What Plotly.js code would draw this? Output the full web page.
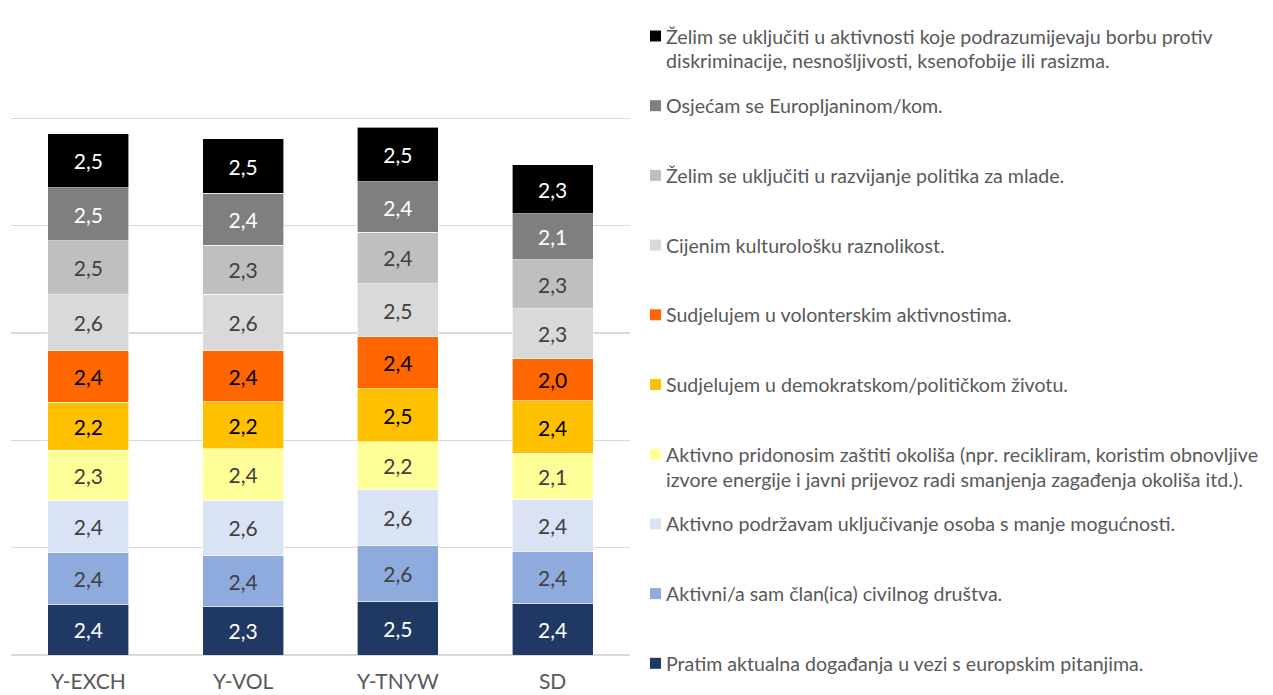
<!DOCTYPE html>
<html>
<head>
<meta charset="utf-8">
<script src="https://cdn.plot.ly/plotly-3.0.1.min.js"></script>
<style>html,body{margin:0;padding:0;background:#fff;}#chart{width:1273px;height:695px;}</style>
</head>
<body>
<div id="chart"></div>
<script>
// ---- DATA ----
const categories = ['Y-EXCH', 'Y-VOL', 'Y-TNYW', 'SD'];

// series names, bottom of stack to top ("<br>" marks the legend line break)
const seriesNames = [
  'Pratim aktualna događanja u vezi s europskim pitanjima.',
  'Aktivni/a sam član(ica) civilnog društva.',
  'Aktivno podržavam uključivanje osoba s manje mogućnosti.',
  'Aktivno pridonosim zaštiti okoliša (npr. recikliram, koristim obnovljive<br>izvore energije i javni prijevoz radi smanjenja zagađenja okoliša itd.).',
  'Sudjelujem u demokratskom/političkom životu.',
  'Sudjelujem u volonterskim aktivnostima.',
  'Cijenim kulturološku raznolikost.',
  'Želim se uključiti u razvijanje politika za mlade.',
  'Osjećam se Europljaninom/kom.',
  'Želim se uključiti u aktivnosti koje podrazumijevaju borbu protiv<br>diskriminacije, nesnošljivosti, ksenofobije ili rasizma.'
];

const pratim         = [2.36, 2.26, 2.50, 2.40];
const clan           = [2.40, 2.37, 2.58, 2.44];
const ukljucivanje   = [2.44, 2.58, 2.63, 2.42];
const okolis         = [2.34, 2.39, 2.22, 2.14];
const demokratski    = [2.24, 2.20, 2.47, 2.44];
const volonterski    = [2.39, 2.39, 2.42, 1.97];
const kulturoloska   = [2.62, 2.61, 2.48, 2.32];
const politikeMladi  = [2.50, 2.29, 2.39, 2.29];
const europljanin    = [2.48, 2.42, 2.35, 2.14];
const diskriminacija = [2.52, 2.53, 2.54, 2.27];

const seriesValues = [pratim, clan, ukljucivanje, okolis, demokratski,
                      volonterski, kulturoloska, politikeMladi, europljanin, diskriminacija];

// ---- STYLE ----
const colors = ['#203864', '#8FAADC', '#DAE3F3', '#FFFF99', '#FFC000',
                '#FF6600', '#D9D9D9', '#BFBFBF', '#7F7F7F', '#000000'];
const labelColors = ['#FFFFFF', '#404040', '#404040', '#404040', '#000000',
                     '#000000', '#404040', '#404040', '#FFFFFF', '#FFFFFF'];
const FONT = 'Lato, "Open Sans", sans-serif';

const W = 1273, H = 695;
const M = {l: 11, r: 643, t: 11, b: 40};
const pw = W - M.l - M.r, ph = H - M.t - M.b;
const px2x = px => (px - M.l) / pw;
const px2y = py => (H - M.b - py) / ph;

const traces = seriesValues.map((vals, i) => ({
  type: 'bar',
  name: seriesNames[i].replace('<br>', ' '),
  x: categories,
  y: vals,
  marker: {color: colors[i], line: {color: '#FFFFFF', width: 0.6}},
  texttemplate: '%{y:.1f}',
  textposition: 'inside',
  insidetextanchor: 'middle',
  textangle: 0,
  constraintext: 'none',
  textfont: {family: FONT, size: 21, color: labelColors[i]},
  hoverinfo: 'skip'
}));

// custom legend (top entry = last series)
const annotations = [];
const shapes = [];
const legendTop = 36, legendStep = 69.7, lineStep = 25;
for (let i = 0; i < seriesNames.length; i++) {
  const k = seriesNames.length - 1 - i;
  const yc = legendTop + i * legendStep;
  shapes.push({
    type: 'rect', xref: 'paper', yref: 'paper',
    x0: px2x(650), x1: px2x(661), y0: px2y(yc + 5.5), y1: px2y(yc - 5.5),
    fillcolor: colors[k], line: {width: 0}
  });
  seriesNames[k].split('<br>').forEach((line, j) => {
    annotations.push({
      xref: 'paper', yref: 'paper', x: px2x(664), y: px2y(yc + j * lineStep),
      xanchor: 'left', yanchor: 'middle', showarrow: false, text: line,
      font: {family: FONT, size: 19.6, color: '#595959'}
    });
  });
}

const layout = {
  width: W, height: H, autosize: false,
  margin: {l: M.l, r: M.r, t: M.t, b: M.b, pad: 0},
  paper_bgcolor: '#FFFFFF', plot_bgcolor: '#FFFFFF',
  barmode: 'stack', bargap: 0.477,
  separators: ', ',
  showlegend: false,
  font: {family: FONT, color: '#595959'},
  xaxis: {
    type: 'category', showgrid: false, showline: false, zeroline: false,
    ticks: '', ticklabelstandoff: 12,
    tickfont: {family: FONT, size: 21, color: '#595959'}
  },
  yaxis: {
    range: [0, 30], dtick: 5, tick0: 0, showticklabels: false,
    showgrid: true, gridcolor: '#D9D9D9', gridwidth: 1.5,
    zeroline: true, zerolinecolor: '#D9D9D9', zerolinewidth: 1.5,
    showline: false, ticks: ''
  },
  shapes: shapes,
  annotations: annotations
};

Plotly.newPlot('chart', traces, layout, {staticPlot: true, displayModeBar: false});
</script>
</body>
</html>
